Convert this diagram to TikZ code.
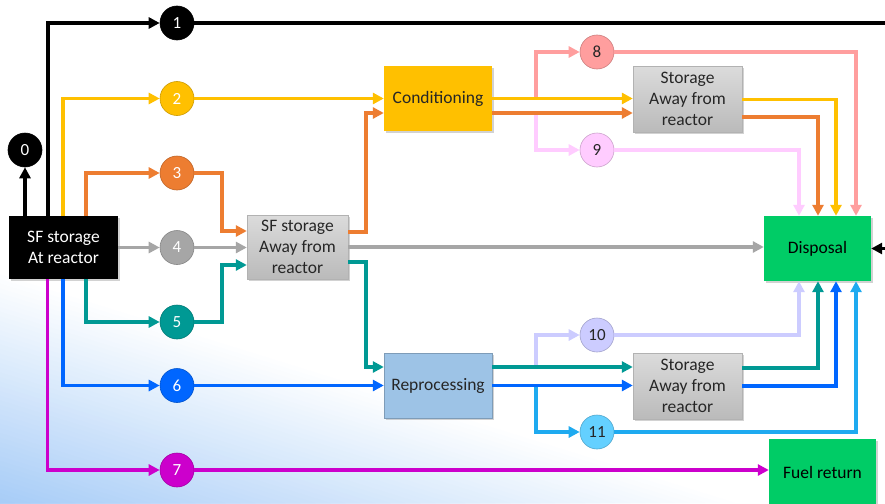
\documentclass[tikz,border=0pt]{standalone}
\usepackage{fontspec}
\setmainfont{Carlito}
\usetikzlibrary{arrows.meta,shadows}
\definecolor{bgblue}{RGB}{166,204,247}
\definecolor{ycol}{RGB}{255,192,0}
\definecolor{ocol}{RGB}{237,125,49}
\definecolor{pcol}{RGB}{255,158,158}
\definecolor{lpcol}{RGB}{255,204,255}
\definecolor{gcol}{RGB}{166,166,166}
\definecolor{tcol}{RGB}{0,153,148}
\definecolor{bcol}{RGB}{0,102,255}
\definecolor{lavcol}{RGB}{204,204,255}
\definecolor{skycol}{RGB}{30,170,240}
\definecolor{skyfill}{RGB}{100,208,255}
\definecolor{mcol}{RGB}{204,0,204}
\definecolor{grn}{RGB}{0,204,102}
\definecolor{rblue}{RGB}{157,195,230}
\definecolor{txt}{RGB}{38,38,38}
\tikzset{
  num/.style={circle, minimum size=34pt, inner sep=0pt, draw=#1!80!black, line width=0.6pt, fill=#1,
    font=\fontsize{17}{20}\selectfont},
  box/.style={rectangle, inner sep=0pt, align=center, text=txt,
    font=\fontsize{17.5}{21}\selectfont,
    drop shadow={shadow xshift=1.5pt, shadow yshift=-1.5pt, opacity=0.35}},
  graybox/.style={box, minimum width=109pt, minimum height=66pt, draw=black!30, line width=0.4pt,
    top color=black!14, bottom color=black!27},
  conn/.style={line width=3.2pt, -{Triangle[length=11pt,width=11pt]}},
}
\begin{document}
\begin{tikzpicture}[x=1pt,y=-1pt]
\useasboundingbox (0,0) rectangle (885,503);
\begin{scope}
\clip (0,0) rectangle (885,503);
\fill[white] (0,0) rectangle (885,503);
\foreach \i in {1,...,50}{
  \pgfmathsetmacro\yy{270+4.66*\i}
  \pgfmathsetmacro\xx{(503-\yy)*3.2189}
  \pgfmathtruncatemacro\pp{2*\i}
  \fill[bgblue!\pp] (0,\yy) -- (0,503) -- (\xx,503) -- cycle;
}

% boxes
\node[box, fill=black, text=white, minimum width=109pt, minimum height=63pt] (reactor) at (63.5,247.5) {SF storage\\At reactor};
\node[graybox, minimum width=101pt, minimum height=64pt] (sfaway) at (297.5,247) {SF storage\\Away from\\reactor};
\node[box, fill=ycol, minimum width=108pt, minimum height=65pt] (cond) at (438,98.5) {Conditioning};
\node[graybox] (stor1) at (687.5,99) {Storage\\Away from\\reactor};
\node[box, fill=grn, text=black, minimum width=107pt, minimum height=65pt] (disp) at (817.5,248.5) {Disposal};
\node[box, fill=rblue, draw=rblue!80!black, line width=0.4pt, minimum width=108pt, minimum height=65pt] (repro) at (438,385.5) {Reprocessing};
\node[graybox] (stor2) at (687.5,386) {Storage\\Away from\\reactor};
\node[box, fill=grn, text=black, minimum width=107pt, minimum height=66pt] (fuel) at (822.5,472) {Fuel return};

% numbered circles
\node[num=black, text=white] (n0) at (25,150) {0};
\node[num=black, text=white] (n1) at (177,23) {1};
\node[num=ycol, text=white] (n2) at (177,98.5) {2};
\node[num=ocol, text=white] (n3) at (177,173) {3};
\node[num=gcol, text=white] (n4) at (177,247.5) {4};
\node[num=tcol, text=white] (n5) at (177,322) {5};
\node[num=bcol, text=white] (n6) at (177,385.5) {6};
\node[num=mcol, text=white] (n7) at (177,470) {7};
\node[num=pcol, text=txt] (n8) at (597,52) {8};
\node[num=lpcol, text=txt] (n9) at (597,150) {9};
\node[num=lavcol, text=txt] (n10) at (597,335) {10};
\node[num=skyfill, text=txt] (n11) at (597,432) {11};

% branch lines (behind main lines)
\draw[conn, pcol] (536,98.5) |- (n8);
\draw[conn, pcol] (n8) -| ([xshift=38.5pt]disp.north);
\draw[conn, lpcol] (536,113) |- (n9);
\draw[conn, lpcol] (n9) -| ([xshift=-18.5pt]disp.north);
\draw[conn, lavcol] (536,367) |- (n10);
\draw[conn, lavcol] (n10) -| ([xshift=-18.5pt]disp.south);
\draw[conn, skycol] (536,385.5) |- (n11);
\draw[conn, skycol] (n11) -| ([xshift=38.5pt]disp.south);

% 0 and 1
\draw[conn, black] ([xshift=-38.5pt]reactor.north) -- (n0);
\draw[conn, black] ([xshift=-15.5pt]reactor.north) |- (n1);
\draw[conn, black] (n1) -- (905,23) |- (disp.east);

% 2 yellow
\draw[conn, ycol] ([xshift=-0.5pt]reactor.north) |- (n2);
\draw[conn, ycol] (n2) -- (n2 -| cond.west);
\draw[conn, ycol] (cond.east) -- (cond.east -| stor1.west);
\draw[conn, ycol] ([yshift=-0.5pt]stor1.east) -| ([xshift=18.5pt]disp.north);

% 3 orange
\draw[conn, ocol] ([xshift=22.5pt]reactor.north) |- (n3);
\draw[conn, ocol] (n3) -- (222,173) |- ([yshift=16pt]sfaway.west);
\draw[conn, ocol] ([yshift=15pt]sfaway.east) -| (366,113) -- ([yshift=-14.5pt]cond.west);
\draw[conn, ocol] ([yshift=-14.5pt]cond.east) -- ([yshift=-14.5pt]cond.east -| stor1.west);
\draw[conn, ocol] ([yshift=-18pt]stor1.east) -| ([xshift=0.5pt]disp.north);

% 4 gray
\draw[conn, gcol] (reactor) -- (n4);
\draw[conn, gcol] (n4) -- (n4 -| sfaway.west);
\draw[conn, gcol] (sfaway.east) -- (sfaway.east -| disp.west);

% 5 teal
\draw[conn, tcol] ([xshift=22.5pt]reactor.south) |- (n5);
\draw[conn, tcol] (n5) -- (222,322) |- ([yshift=-18pt]sfaway.west);
\draw[conn, tcol] ([yshift=-15pt]sfaway.east) -| (366,367) -- ([yshift=18.5pt]repro.west);
\draw[conn, tcol] ([yshift=18.5pt]repro.east) -- ([yshift=18.5pt]repro.east -| stor2.west);
\draw[conn, tcol] ([yshift=18pt]stor2.east) -| ([xshift=0.5pt]disp.south);

% 6 blue
\draw[conn, bcol] ([xshift=-0.5pt]reactor.south) |- (n6);
\draw[conn, bcol] (n6) -- (n6 -| repro.west);
\draw[conn, bcol] (repro.east) -- (repro.east -| stor2.west);
\draw[conn, bcol] (stor2.east) -| ([xshift=18.5pt]disp.south);

% 7 magenta
\draw[conn, mcol] ([xshift=-16pt]reactor.south) |- (n7);
\draw[conn, mcol] (n7) -- (n7 -| fuel.west);
\end{scope}
\end{tikzpicture}
\end{document}
